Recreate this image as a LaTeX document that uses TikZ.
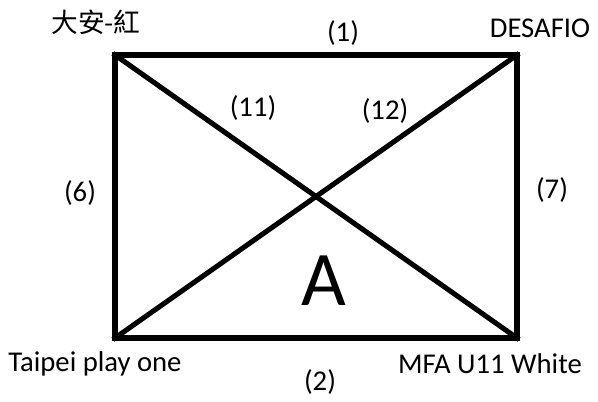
\documentclass[tikz,border=0pt]{standalone}
\usepackage{fontspec}
\setmainfont{Carlito}
\newfontfamily\cjk{Noto Sans CJK TC}
\begin{document}
\begin{tikzpicture}[x=0.75pt,y=-0.75pt,
  lbl/.style={inner sep=0pt,font=\fontsize{21.5}{23}\selectfont},
  edge/.style={line width=3.8pt,line cap=rect}]
\useasboundingbox (0,0) rectangle (598,401);
\coordinate (tl) at (115,55);
\coordinate (tr) at (517,55);
\coordinate (bl) at (115,338);
\coordinate (br) at (517,338);
\draw[edge,line join=miter] (tl) -- (tr) -- (br) -- (bl) -- cycle;
\draw[edge] (tl) -- (br);
\draw[edge] (tr) -- (bl);
\node[lbl,font=\cjk\fontsize{20}{22}\selectfont] (n1) at (96,22) {大安-紅};
\node[lbl] (n2) at (540,28) {DESAFIO};
\node[lbl] (n3) at (95,364) {Taipei play one};
\node[lbl] (n4) at (490,364) {MFA U11 White};
\node[lbl] (e1) at (343,33) {(1)};
\node[lbl] (e2) at (320,382) {(2)};
\node[lbl] (e6) at (80,193) {(6)};
\node[lbl] (e7) at (552,190) {(7)};
\node[lbl] (e11) at (253,108) {(11)};
\node[lbl] (e12) at (385,111) {(12)};
\node[inner sep=0pt,font=\fontsize{58}{62}\selectfont] (A) at (324,281) {A};
\end{tikzpicture}
\end{document}
